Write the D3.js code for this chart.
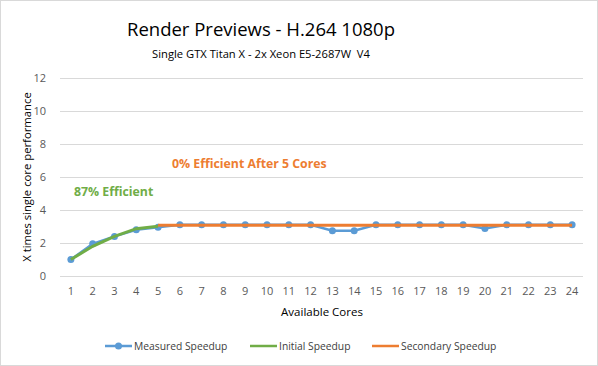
<!DOCTYPE html>
<html>
<head>
<meta charset="utf-8">
<script src="https://cdn.jsdelivr.net/npm/d3@7"></script>
<style>
  body { margin: 0; background: #fff; }
  svg { display: block; font-family: "Open Sans", sans-serif; }
  text { white-space: pre; }
</style>
</head>
<body>
<svg width="598" height="366"></svg>
<script>
// data
var cores = d3.range(1, 25);
var measured = [1, 1.95, 2.4, 2.8, 2.95, 3.1, 3.1, 3.1, 3.1, 3.1, 3.1, 3.1,
                2.75, 2.75, 3.1, 3.1, 3.1, 3.1, 3.1, 2.88, 3.1, 3.1, 3.1, 3.1];
var initialCores = [1, 2, 3, 4, 5];
var initial = [1, 1.8, 2.4, 2.87, 3.02];
var secondaryCores = d3.range(5, 25);
var secondary = secondaryCores.map(function() { return 3.07; });
var yTicks = [0, 2, 4, 6, 8, 10, 12];

var blue = "#5B9BD5", green = "#70AD47", orange = "#ED7D31";

var svg = d3.select("svg");

// outer border
svg.append("rect")
    .attr("x", 0.5).attr("y", 0.5)
    .attr("width", 597).attr("height", 365)
    .attr("fill", "#fff").attr("stroke", "#d9d9d9");

var margin = {top: 78, right: 15, bottom: 90, left: 60},
    width = 598 - margin.left - margin.right,
    height = 366 - margin.top - margin.bottom;

var g = svg.append("g")
    .attr("transform", "translate(" + margin.left + "," + margin.top + ")");

var x = d3.scaleBand().domain(cores).range([0, width]);
var y = d3.scaleLinear().domain([0, 12]).range([height, 0]);
var cx = function(c) { return x(c) + x.bandwidth() / 2; };

// gridlines
g.append("g")
    .selectAll("line")
    .data(yTicks)
    .enter().append("line")
    .attr("x1", 0).attr("x2", width)
    .attr("y1", function(d) { return y(d) + 0.5; })
    .attr("y2", function(d) { return y(d) + 0.5; })
    .attr("stroke", "#d9d9d9");

// y axis labels
g.append("g")
    .selectAll("text")
    .data(yTicks)
    .enter().append("text")
    .attr("x", -14).attr("y", function(d) { return y(d) + 4; })
    .attr("text-anchor", "end")
    .attr("font-size", 11).attr("fill", "#595959")
    .text(function(d) { return d; });

// x axis labels
g.append("g")
    .selectAll("text")
    .data(cores)
    .enter().append("text")
    .attr("x", cx).attr("y", height + 19)
    .attr("text-anchor", "middle")
    .attr("font-size", 11).attr("fill", "#595959")
    .text(function(d) { return d; });

var line = d3.line()
    .x(function(d) { return cx(d[0]); })
    .y(function(d) { return y(d[1]); });

// measured
g.append("path")
    .datum(d3.zip(cores, measured))
    .attr("d", line)
    .attr("fill", "none").attr("stroke", blue).attr("stroke-width", 2.5);

g.append("g")
    .selectAll("circle")
    .data(d3.zip(cores, measured))
    .enter().append("circle")
    .attr("cx", function(d) { return cx(d[0]); })
    .attr("cy", function(d) { return y(d[1]); })
    .attr("r", 3.5).attr("fill", blue);

// secondary
g.append("path")
    .datum(d3.zip(secondaryCores, secondary))
    .attr("d", line)
    .attr("fill", "none").attr("stroke", orange).attr("stroke-width", 3);

// initial
g.append("path")
    .datum(d3.zip(initialCores, initial))
    .attr("d", line)
    .attr("fill", "none").attr("stroke", green).attr("stroke-width", 3);

// annotations
svg.append("text")
    .attr("x", 172).attr("y", 168)
    .attr("font-size", 12.3).attr("font-weight", "bold").attr("fill", orange)
    .text("0% Efficient After 5 Cores");
svg.append("text")
    .attr("x", 74).attr("y", 196)
    .attr("font-size", 12.3).attr("font-weight", "bold").attr("fill", green)
    .text("87% Efficient");

// titles
svg.append("text")
    .attr("x", 261).attr("y", 36)
    .attr("text-anchor", "middle")
    .attr("font-size", 18.5).attr("fill", "#000")
    .text("Render Previews - H.264 1080p");
svg.append("text")
    .attr("x", 261).attr("y", 58)
    .attr("text-anchor", "middle")
    .attr("font-size", 11.2).attr("fill", "#000")
    .text("Single GTX Titan X - 2x Xeon E5-2687W  V4");

svg.append("text")
    .attr("transform", "translate(31,177) rotate(-90)")
    .attr("text-anchor", "middle")
    .attr("font-size", 11.3).attr("fill", "#000")
    .text("X times single core performance");

svg.append("text")
    .attr("x", 322).attr("y", 316)
    .attr("text-anchor", "middle")
    .attr("font-size", 11.5).attr("fill", "#000")
    .text("Available Cores");

// legend
var legend = [
    {name: "Measured Speedup", color: blue, x: 105, marker: true},
    {name: "Initial Speedup", color: green, x: 250, marker: false},
    {name: "Secondary Speedup", color: orange, x: 372, marker: false}
];
var lg = svg.append("g").selectAll("g")
    .data(legend)
    .enter().append("g")
    .attr("transform", function(d) { return "translate(" + d.x + ",346)"; });
lg.append("line")
    .attr("x1", 0).attr("x2", 27)
    .attr("stroke", function(d) { return d.color; }).attr("stroke-width", 2.5);
lg.filter(function(d) { return d.marker; }).append("circle")
    .attr("cx", 13.5).attr("r", 3.5).attr("fill", blue);
lg.append("text")
    .attr("x", 29).attr("y", 4)
    .attr("font-size", 10.3).attr("fill", "#404040")
    .text(function(d) { return d.name; });
</script>
</body>
</html>
